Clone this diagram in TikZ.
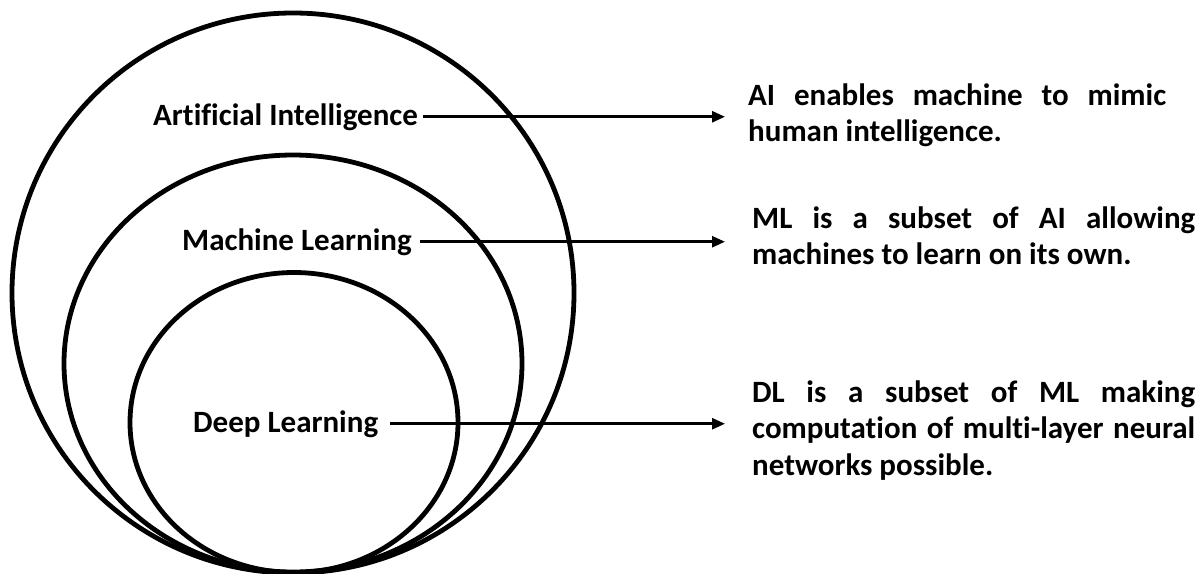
\documentclass[tikz,border=0pt]{standalone}
\usepackage{fontspec}
\setmainfont{Carlito}[RawFeature={-liga;-clig;-dlig}]
\usetikzlibrary{arrows.meta}
\begin{document}
\begin{tikzpicture}[x=1pt,y=-1pt,
  ring/.style={line width=4.8pt},
  lbl/.style={font=\fontsize{31}{36}\selectfont\bfseries, inner sep=0pt, anchor=base west},
  desc/.style={font=\fontsize{31}{36.5}\selectfont\bfseries, inner sep=0pt, anchor=base west},
  arr/.style={line width=2.6pt, -{Triangle[length=13pt,width=11pt]}}]
\useasboundingbox (0,0) rectangle (1201,573);
% nested sets
\draw[ring] (293,293) ellipse [x radius=281pt, y radius=280pt];
\draw[ring] (293,363.5) ellipse [x radius=229pt, y radius=208.5pt];
\draw[ring] (294,422.5) ellipse [x radius=164pt, y radius=150pt];
% labels
\node[lbl] (ai) at (153,125) {Artificial Intelligence};
\node[lbl] (ml) at (182,250) {Machine Learning};
\node[lbl] (dl) at (193,432) {Deep Learning};
% descriptions
\node[desc] (aid) at (748,105) {\parbox[t]{418pt}{\makebox[418pt][s]{AI enables machine to mimic}\\human intelligence.}};
\node[desc] (mld) at (752,228) {\parbox[t]{443pt}{\makebox[443pt][s]{ML is a subset of AI allowing}\\machines to learn on its own.}};
\node[desc] (dld) at (752,402) {\parbox[t]{443pt}{\makebox[443pt][s]{DL is a subset of ML making}\\\makebox[443pt][s]{computation of multi-layer neural}\\networks possible.}};
% connectors
\draw[arr] ([xshift=5pt]ai.east) -- ([xshift=-23pt]ai.east -| aid.west);
\draw[arr] ([xshift=8pt]ml.east) -- ([xshift=-27pt]ml.east -| mld.west);
\draw[arr] ([xshift=12pt]dl.east) -- ([xshift=-27pt]dl.east -| dld.west);
\end{tikzpicture}
\end{document}
